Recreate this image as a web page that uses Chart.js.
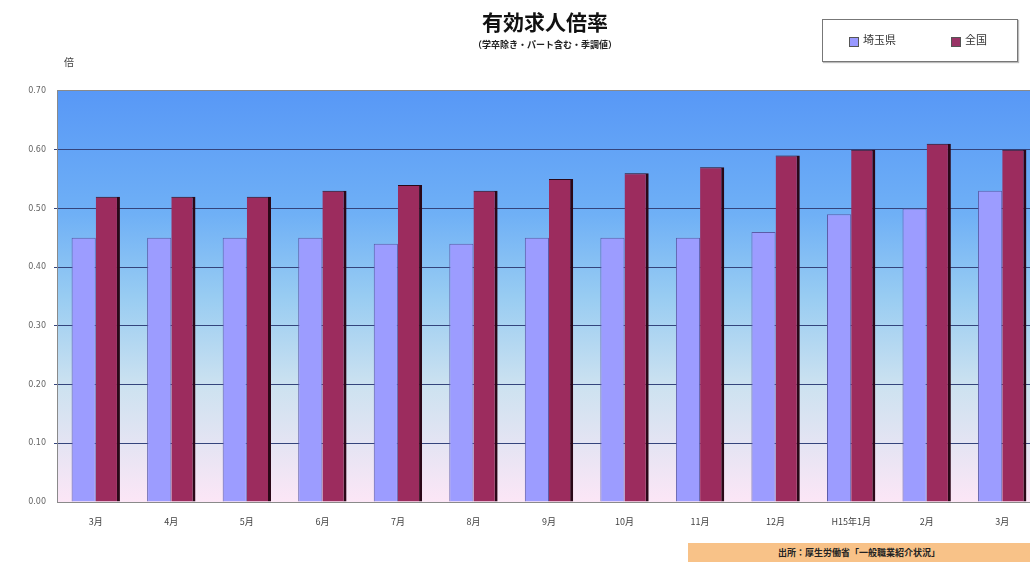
<!DOCTYPE html>
<html lang="ja">
<head>
<meta charset="utf-8">
<title>有効求人倍率</title>
<script src="https://cdn.jsdelivr.net/npm/chart.js@4/dist/chart.umd.min.js"></script>
<style>
  html, body { margin: 0; padding: 0; background: #fff; }
  #wrap { position: relative; width: 1030px; height: 562px; overflow: hidden; font-family: "Noto Sans CJK JP", sans-serif; }
  #chartBox { position: absolute; left: 0; top: 0; width: 1050px; height: 562px; }
  #title { position: absolute; left: 445px; width: 200px; top: 6px; text-align: center; font-size: 21px; font-weight: bold; color: #111; }
  #subtitle { position: absolute; left: 445px; width: 200px; top: 38px; text-align: center; font-size: 9px; font-weight: bold; color: #222; }
  #unit { position: absolute; left: 64px; top: 54px; font-size: 10px; color: #444; }
  #legend { position: absolute; left: 822px; top: 19px; width: 194px; height: 41px; border: 1px solid #777; box-shadow: 1px 1px 1px #bbb; background: #fff; font-size: 11px; color: #333; }
  #legend span.sw { position: absolute; top: 17px; width: 8px; height: 8px; border: 1px solid #555; }
  #legend span.lb { position: absolute; top: 11px; }
  #source { position: absolute; left: 688px; top: 543px; width: 342px; height: 19px; background: #f8c288; text-align: center; font-size: 9px; font-weight: bold; line-height: 19px; color: #222; }
</style>
</head>
<body>
<div id="wrap">
  <div id="chartBox"><canvas id="chart"></canvas></div>
  <div id="title">有効求人倍率</div>
  <div id="subtitle">（学卒除き・パート含む・季調値）</div>
  <div id="unit">倍</div>
  <div id="legend">
    <span class="sw" style="left:26px;background:#9999ff"></span><span class="lb" style="left:40px">埼玉県</span>
    <span class="sw" style="left:128px;background:#993366"></span><span class="lb" style="left:142px">全国</span>
  </div>
  <div id="source">出所：厚生労働省「一般職業紹介状況」</div>
</div>
<script>
const months = ['3月', '4月', '5月', '6月', '7月', '8月', '9月', '10月', '11月', '12月', 'H15年1月', '2月', '3月'];
const saitama = [0.45, 0.45, 0.45, 0.45, 0.44, 0.44, 0.45, 0.45, 0.45, 0.46, 0.49, 0.50, 0.53];
const national = [0.52, 0.52, 0.52, 0.53, 0.54, 0.53, 0.55, 0.56, 0.57, 0.59, 0.60, 0.61, 0.60];
const yMin = 0, yMax = 0.7, yStep = 0.1;

// gradient plot background plus a grey frame around the plot area
const plotBg = {
  id: 'plotBg',
  beforeDraw(chart) {
    const { ctx, chartArea: a } = chart;
    const g = ctx.createLinearGradient(0, a.top, 0, a.bottom);
    g.addColorStop(0, '#5898f6');
    g.addColorStop(0.3, '#6fb0f6');
    g.addColorStop(0.5, '#98ccf2');
    g.addColorStop(0.72, '#cde2f0');
    g.addColorStop(1, '#fce6f6');
    ctx.save();
    ctx.fillStyle = g;
    ctx.fillRect(a.left, a.top, a.right - a.left, a.bottom - a.top);
    ctx.restore();
  },
  afterDraw(chart) {
    const { ctx, chartArea: a } = chart;
    ctx.save();
    ctx.strokeStyle = '#8a8a8a';
    ctx.lineWidth = 1;
    ctx.strokeRect(a.left - 0.5, a.top - 0.5, a.right - a.left + 1, a.bottom - a.top + 1);
    ctx.restore();
  }
};

new Chart(document.getElementById('chart'), {
  type: 'bar',
  data: {
    labels: months,
    datasets: [{
      label: '埼玉県',
      data: saitama,
      backgroundColor: '#9c9cff',
      borderColor: '#5c5ca8',
      borderWidth: { left: 1, top: 1, right: 1, bottom: 0 },
      borderSkipped: false
    }, {
      label: '全国',
      data: national,
      backgroundColor: '#9c2c5e',
      borderColor: '#2a0818',
      borderWidth: { left: 0, top: 1, right: 3, bottom: 0 },
      borderSkipped: false
    }]
  },
  options: {
    responsive: true,
    maintainAspectRatio: false,
    animation: false,
    layout: { padding: { top: 91, right: 10, left: 0, bottom: 0 } },
    plugins: {
      legend: { display: false },
      title: { display: false },
      tooltip: { enabled: false }
    },
    datasets: { bar: { categoryPercentage: 0.64, barPercentage: 1 } },
    scales: {
      x: {
        grid: { display: false },
        border: { display: false },
        ticks: { color: '#444', font: { size: 9, family: 'Noto Sans CJK JP' }, padding: 6, maxRotation: 0, autoSkip: false },
        afterFit(s) { s.height = 60; }
      },
      y: {
        min: yMin,
        max: yMax,
        grid: {
          // the frame covers the top and bottom edges
          color: c => (c.tick && (c.tick.value >= yMax - 1e-9 || c.tick.value <= yMin)) ? 'rgba(0,0,0,0)' : '#34447c',
          lineWidth: 1,
          tickLength: 4
        },
        border: { display: false },
        ticks: {
          stepSize: yStep,
          color: '#666',
          font: { size: 8, family: 'DejaVu Sans' },
          padding: 8,
          callback: v => v.toFixed(2)
        },
        afterFit(s) { s.width = 58; }
      }
    }
  },
  plugins: [plotBg]
});
</script>
</body>
</html>
